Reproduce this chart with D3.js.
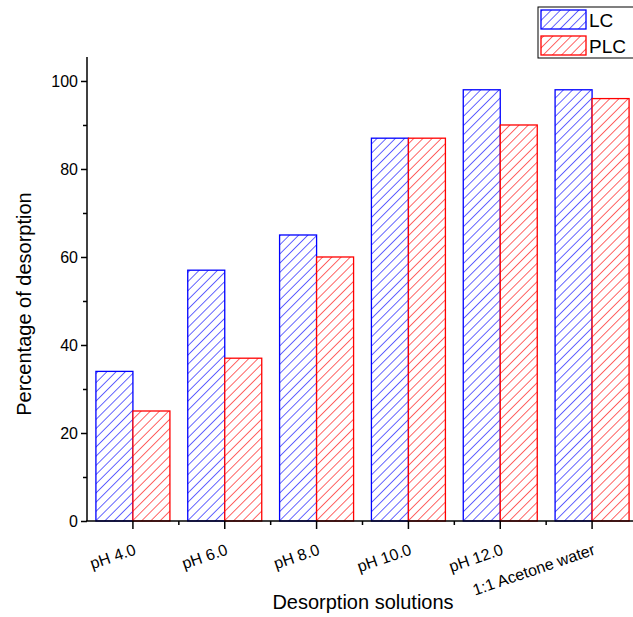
<!DOCTYPE html>
<html><head><meta charset="utf-8">
<script src="https://cdn.jsdelivr.net/npm/d3@7"></script>
<style>body{margin:0;background:#fff}text{font-family:"Liberation Sans",Arial,sans-serif}</style>
</head><body><svg id="c" width="633" height="617" xmlns="http://www.w3.org/2000/svg"></svg>
<script>
const categories = ["pH 4.0","pH 6.0","pH 8.0","pH 10.0","pH 12.0","1:1 Acetone water"];
const seriesNames = ["LC","PLC"];
const lcValues = [34,57,65,87,98,98];
const plcValues = [25,37,60,87,90,96];
const yTicks = [0,20,40,60,80,100];
const colors = ["#0000ff","#ff0000"];

const svg = d3.select("#c");
const defs = svg.append("defs");
colors.forEach((c,i)=>{
  const p = defs.append("pattern").attr("id","hatch"+i).attr("patternUnits","userSpaceOnUse")
    .attr("width",6.5).attr("height",6.5).attr("patternTransform","rotate(45)");
  p.append("rect").attr("width",6.5).attr("height",6.5).style("fill","#ffffff");
  p.append("line").attr("x1",0).attr("y1",0).attr("x2",0).attr("y2",6.5)
    .style("stroke",c).style("stroke-width","1.2px");
});

const pl=87, pr=638, pt=57, pb=521;
const x = d3.scaleBand().domain(categories).range([pl,pr]).paddingInner(0).paddingOuter(0);
const y = d3.scaleLinear().domain([0,105.45]).range([pb,pt]);
const bw = 37;

const data = [lcValues, plcValues];
data.forEach((vals,si)=>{
  svg.append("g").selectAll("rect").data(vals).join("rect")
    .attr("x",(d,i)=>x(categories[i])+x.bandwidth()/2 + (si===0?-bw:0))
    .attr("y",d=>y(d)).attr("width",bw).attr("height",d=>pb-y(d))
    .style("fill","url(#hatch"+si+")").style("stroke",colors[si]).style("stroke-width","1.3px");
});

// y axis
const ya = svg.append("g").attr("transform",`translate(${pl},0)`)
  .call(d3.axisLeft(y).tickValues(yTicks).tickSize(6).tickPadding(3));
ya.select(".domain").attr("d",`M0,${pt}V${pb}`).attr("stroke","#000").attr("stroke-width",1.5);
ya.selectAll(".tick line").attr("stroke-width",1.5);
ya.selectAll(".tick text").attr("font-size",16).attr("fill","#000").attr("font-family","Liberation Sans, Arial");
svg.append("g").attr("transform",`translate(${pl},0)`)
  .call(d3.axisLeft(y).tickValues([10,30,50,70,90]).tickSize(4).tickFormat(""))
  .call(g=>{g.select(".domain").remove();g.selectAll("line").attr("stroke-width",1.5);});

// x axis
const xa = svg.append("g").attr("transform",`translate(0,${pb})`)
  .call(d3.axisBottom(x).tickSize(8).tickFormat(""));
xa.select(".domain").attr("d",`M${pl-1},0H${pr}`).attr("stroke","#000").attr("stroke-width",1.5);
xa.selectAll(".tick line").attr("stroke-width",1.5);
svg.append("g").selectAll("line").data(categories).join("line")
  .attr("x1",d=>x(d)+x.bandwidth()).attr("x2",d=>x(d)+x.bandwidth())
  .attr("y1",pb).attr("y2",pb+4).attr("stroke","#000").attr("stroke-width",1.5);
svg.append("g").selectAll("text").data(categories).join("text")
  .attr("transform",d=>`translate(${x(d)+x.bandwidth()/2+4},554) rotate(-19)`)
  .attr("text-anchor","end").attr("font-size",16).text(d=>d);

svg.append("text").attr("x",363).attr("y",609).attr("text-anchor","middle").attr("font-size",20).text("Desorption solutions");
svg.append("text").attr("transform",`translate(31,304) rotate(-90)`).attr("text-anchor","middle").attr("font-size",20).text("Percentage of desorption");

const lg = svg.append("g");
lg.append("rect").attr("x",538).attr("y",7).attr("width",100).attr("height",51).attr("fill","#fff").attr("stroke","#000").attr("stroke-width",1);
seriesNames.forEach((n,i)=>{
  lg.append("rect").attr("x",541).attr("y",10+i*26).attr("width",45).attr("height",19)
    .style("fill","url(#hatch"+i+")").style("stroke",colors[i]).style("stroke-width","1.3px");
  lg.append("text").attr("x",589).attr("y",27+i*26).attr("font-size",19).text(n);
});
</script></body></html>
